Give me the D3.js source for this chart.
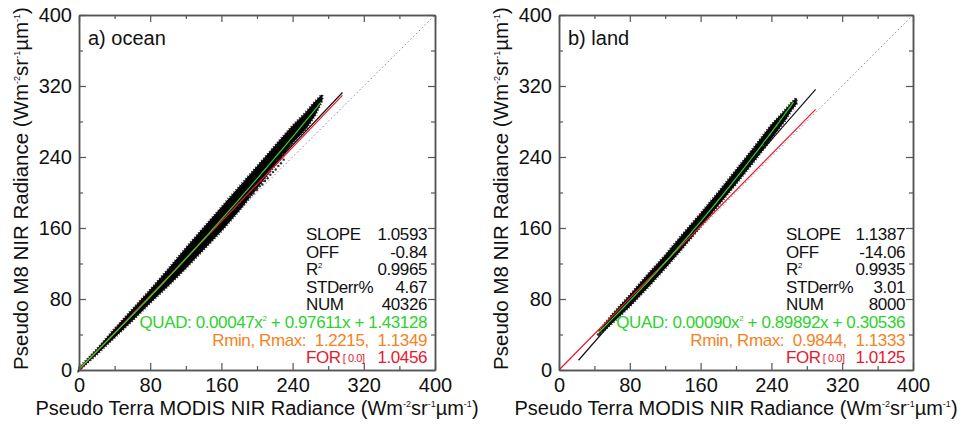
<!DOCTYPE html>
<html><head><meta charset="utf-8">
<script src="https://cdn.jsdelivr.net/npm/d3@7/dist/d3.min.js"></script>
<style>body{margin:0;background:#fff}svg{display:block;font-family:"Liberation Sans",Arial,Helvetica,sans-serif}</style>
</head><body><svg id="c" width="967" height="428"></svg>
<script>
// ---------- data ----------
const majorTicks = [0, 80, 160, 240, 320, 400];
const minorTicks = [40, 120, 200, 280, 360];
const panelLabels = ["a) ocean", "b) land"];
const statNames = ["SLOPE", "OFF", "R2", "STDerr%", "NUM"];
const oceanStats = ["1.0593", "-0.84", "0.9965", "4.67", "40326"];
const landStats = ["1.1387", "-14.06", "0.9935", "3.01", "8000"];
const oceanQuad = [0.00047, 0.97611, 1.43128];
const landQuad = [0.00090, 0.89892, 0.30536];
const oceanRminmax = ["1.2215", "1.1349"];
const landRminmax = ["0.9844", "1.1333"];
const oceanFor = "1.0456", landFor = "1.0125";
const oceanLinRange = [0, 296], landLinRange = [22, 290];
const oceanQuadRange = [0, 272], landQuadRange = [45, 267];
// scatter envelope (x, lower y, upper y)
const oceanBandX  = [0, 20, 40, 60, 80, 100, 120, 140, 160, 180, 200, 220, 240, 255, 265, 273];
const oceanBandLo = [0, 18, 37, 56, 76, 95, 115, 136, 157, 180, 205, 231, 256, 272, 287, 304];
const oceanBandHi = [2, 23, 46, 68, 90, 113, 137, 160, 183, 206, 229, 252, 275, 290, 302, 310];
const oceanOutX = [192, 196, 199, 203, 206, 209, 212, 215, 218, 221, 224, 227, 230, 204, 211, 217, 223, 229, 234, 238, 200, 214, 226];
const oceanOutY = [196, 199, 203, 207, 209, 213, 216, 220, 223, 226, 230, 233, 237, 213, 221, 228, 236, 243, 248, 254, 203, 224, 238];
const landBandX  = [46, 52, 60, 80, 100, 120, 140, 160, 180, 200, 220, 240, 255, 262, 268];
const landBandLo = [41, 46, 53, 72, 93, 115, 138, 162, 186, 210, 235, 261, 281, 292, 300];
const landBandHi = [44, 52, 62, 84, 107, 129, 153, 176, 200, 225, 250, 276, 292, 300, 306];
const landOutX = [44, 47, 50, 230, 238, 246, 250, 256, 260, 264];
const landOutY = [40, 44, 47, 253, 265, 275, 283, 290, 296, 301];

const colGreen = "#2ed12e", colOrange = "#f5821f", colRed = "#e8182c";

const panels = [
  {left: 79, right: 435, label: panelLabels[0], stats: oceanStats, quad: oceanQuad, rr: oceanRminmax, f: oceanFor,
   lin: [1.0593, -0.84], forSlope: 1.0456, linR: oceanLinRange, quadR: oceanQuadRange,
   bx: oceanBandX, blo: oceanBandLo, bhi: oceanBandHi, ox: oceanOutX, oy: oceanOutY},
  {left: 559, right: 913, label: panelLabels[1], stats: landStats, quad: landQuad, rr: landRminmax, f: landFor,
   lin: [1.1387, -14.06], forSlope: 1.0125, linR: landLinRange, quadR: landQuadRange,
   bx: landBandX, blo: landBandLo, bhi: landBandHi, ox: landOutX, oy: landOutY}
];
const plotTop = 15, plotBottom = 370;
const svg = d3.select("#c");

function unitTitle(t, pre) {
  t.append("tspan").text(pre + " (Wm");
  t.append("tspan").attr("font-size", "9px").attr("dy", "-8").text("-2");
  t.append("tspan").attr("dy", "8").text("sr");
  t.append("tspan").attr("font-size", "9px").attr("dy", "-8").text("-1");
  t.append("tspan").attr("dy", "8").text("µm");
  t.append("tspan").attr("font-size", "9px").attr("dy", "-8").text("-1");
  t.append("tspan").attr("dy", "8").text(")");
}

panels.forEach(p => {
  const x = d3.scaleLinear([0, 400], [p.left, p.right]);
  const y = d3.scaleLinear([0, 400], [plotBottom, plotTop]);
  const g = svg.append("g");

  // 1:1 dotted line
  g.append("line").attr("x1", x(0)).attr("y1", y(0)).attr("x2", x(400)).attr("y2", y(400))
    .attr("stroke", "#8a8a8a").attr("stroke-width", 1).attr("stroke-dasharray", "1.5,2.5");

  // scatter band
  const band = p.bx.map((v, i) => [v, p.blo[i], p.bhi[i]]);
  const areaGen = d3.area().x(d => x(d[0])).y0(d => y(d[1])).y1(d => y(d[2]));
  g.append("path").datum(band).attr("d", areaGen)
    .attr("fill", "#000").attr("stroke", "#000").attr("stroke-width", 1).attr("stroke-linejoin", "round");
  g.append("path").datum(band).attr("d", areaGen)
    .attr("fill", "none").attr("stroke", "#111").attr("stroke-width", 3)
    .attr("stroke-dasharray", "1.3,1.7").attr("opacity", 0.85);
  g.selectAll(null).data(p.ox.map((v, i) => [v, p.oy[i]])).join("circle")
    .attr("cx", d => x(d[0])).attr("cy", d => y(d[1])).attr("r", 1.2).attr("fill", "#333");

  // linear fit (black)
  g.append("line").attr("x1", x(p.linR[0])).attr("y1", y(p.lin[0] * p.linR[0] + p.lin[1]))
    .attr("x2", x(p.linR[1])).attr("y2", y(p.lin[0] * p.linR[1] + p.lin[1]))
    .attr("stroke", "#111").attr("stroke-width", 1.2);
  // forced through origin (red)
  g.append("line").attr("x1", x(0)).attr("y1", y(0))
    .attr("x2", x(p.linR[1])).attr("y2", y(p.forSlope * p.linR[1]))
    .attr("stroke", colRed).attr("stroke-width", 1.2);
  // quadratic (green)
  const qx = d3.range(p.quadR[0], p.quadR[1] + 0.1, 4);
  g.append("path").datum(qx)
    .attr("d", d3.line().x(v => x(v)).y(v => y(p.quad[0] * v * v + p.quad[1] * v + p.quad[2])))
    .attr("fill", "none").attr("stroke", colGreen).attr("stroke-width", 1.2);

  // axes
  const styleAx = sel => {
    sel.select(".domain").attr("stroke", "#555").attr("stroke-width", 1.5);
    sel.selectAll(".tick line").attr("stroke", "#555").attr("stroke-width", 1.2);
    sel.selectAll(".tick text").attr("fill", "#111").attr("font-size", "20px")
      .attr("font-family", '"Liberation Sans",Arial,sans-serif');
  };
  g.append("g").attr("transform", `translate(0,${plotBottom})`)
    .call(d3.axisBottom(x).tickValues(majorTicks).tickSize(-7).tickSizeOuter(0).tickPadding(8)).call(styleAx);
  g.append("g").attr("transform", `translate(0,${plotBottom})`)
    .call(d3.axisBottom(x).tickValues(minorTicks).tickSize(-4).tickSizeOuter(0).tickFormat("")).call(styleAx);
  g.append("g").attr("transform", `translate(0,${plotTop})`)
    .call(d3.axisTop(x).tickValues(majorTicks).tickSize(-7).tickSizeOuter(0).tickFormat("")).call(styleAx);
  g.append("g").attr("transform", `translate(0,${plotTop})`)
    .call(d3.axisTop(x).tickValues(minorTicks).tickSize(-4).tickSizeOuter(0).tickFormat("")).call(styleAx);
  g.append("g").attr("transform", `translate(${p.left},0)`)
    .call(d3.axisLeft(y).tickValues(majorTicks).tickSize(-7).tickSizeOuter(0).tickPadding(7)).call(styleAx);
  g.append("g").attr("transform", `translate(${p.left},0)`)
    .call(d3.axisLeft(y).tickValues(minorTicks).tickSize(-4).tickSizeOuter(0).tickFormat("")).call(styleAx);
  g.append("g").attr("transform", `translate(${p.right},0)`)
    .call(d3.axisRight(y).tickValues(majorTicks).tickSize(-7).tickSizeOuter(0).tickFormat("")).call(styleAx);
  g.append("g").attr("transform", `translate(${p.right},0)`)
    .call(d3.axisRight(y).tickValues(minorTicks).tickSize(-4).tickSizeOuter(0).tickFormat("")).call(styleAx);

  // axis titles
  const xt = g.append("text").attr("x", (p.left + p.right) / 2).attr("y", 415)
    .attr("text-anchor", "middle").attr("font-size", "20px").attr("fill", "#111");
  unitTitle(xt, "Pseudo Terra MODIS NIR Radiance");
  const yt = g.append("text").attr("transform", `translate(${p.left - 51},${(plotTop + plotBottom) / 2 - 4}) rotate(-90)`)
    .attr("text-anchor", "middle").attr("font-size", "20.5px").attr("fill", "#111");
  unitTitle(yt, "Pseudo M8 NIR Radiance");

  // panel label
  g.append("text").attr("x", p.left + 9).attr("y", 45).attr("font-size", "20px").attr("fill", "#111").text(p.label);

  // stats
  const cx = p.left + 227, rx = p.right - 8, y0 = 240, dy = 17.6, ls = "-0.4px";
  statNames.forEach((n, i) => {
    const t = g.append("text").attr("x", cx).attr("y", y0 + i * dy).attr("font-size", "17px")
      .attr("letter-spacing", ls).attr("fill", "#111");
    if (n === "R2") { t.append("tspan").text("R"); t.append("tspan").attr("font-size", "8px").attr("dy", -7).text("2"); }
    else t.text(n);
    g.append("text").attr("x", rx).attr("y", y0 + i * dy).attr("text-anchor", "end").attr("letter-spacing", ls)
      .attr("font-size", "17px").attr("fill", "#111").text(p.stats[i]);
  });
  const q = g.append("text").attr("x", rx).attr("y", y0 + 5 * dy).attr("text-anchor", "end")
    .attr("font-size", "17px").attr("letter-spacing", ls).attr("fill", colGreen);
  q.append("tspan").text("QUAD: " + p.quad[0].toFixed(5) + "x");
  q.append("tspan").attr("font-size", "8px").attr("dy", -7).text("2");
  q.append("tspan").attr("dy", 7).text(" + " + p.quad[1].toFixed(5) + "x + " + p.quad[2].toFixed(5));
  g.append("text").attr("x", rx).attr("y", y0 + 6 * dy).attr("text-anchor", "end").attr("letter-spacing", ls)
    .attr("font-size", "17px").attr("fill", colOrange).attr("xml:space", "preserve")
    .text("Rmin, Rmax:  " + p.rr[0] + ",  " + p.rr[1]);
  const fr = g.append("text").attr("x", cx).attr("y", y0 + 7 * dy).attr("font-size", "17px")
    .attr("letter-spacing", ls).attr("fill", colRed);
  fr.append("tspan").text("FOR");
  fr.append("tspan").attr("font-size", "11px").attr("dx", 2).attr("dy", -1).text("[ 0.0]");
  g.append("text").attr("x", rx).attr("y", y0 + 7 * dy).attr("text-anchor", "end").attr("letter-spacing", ls)
    .attr("font-size", "17px").attr("fill", colRed).text(p.f);
});
</script></body></html>
